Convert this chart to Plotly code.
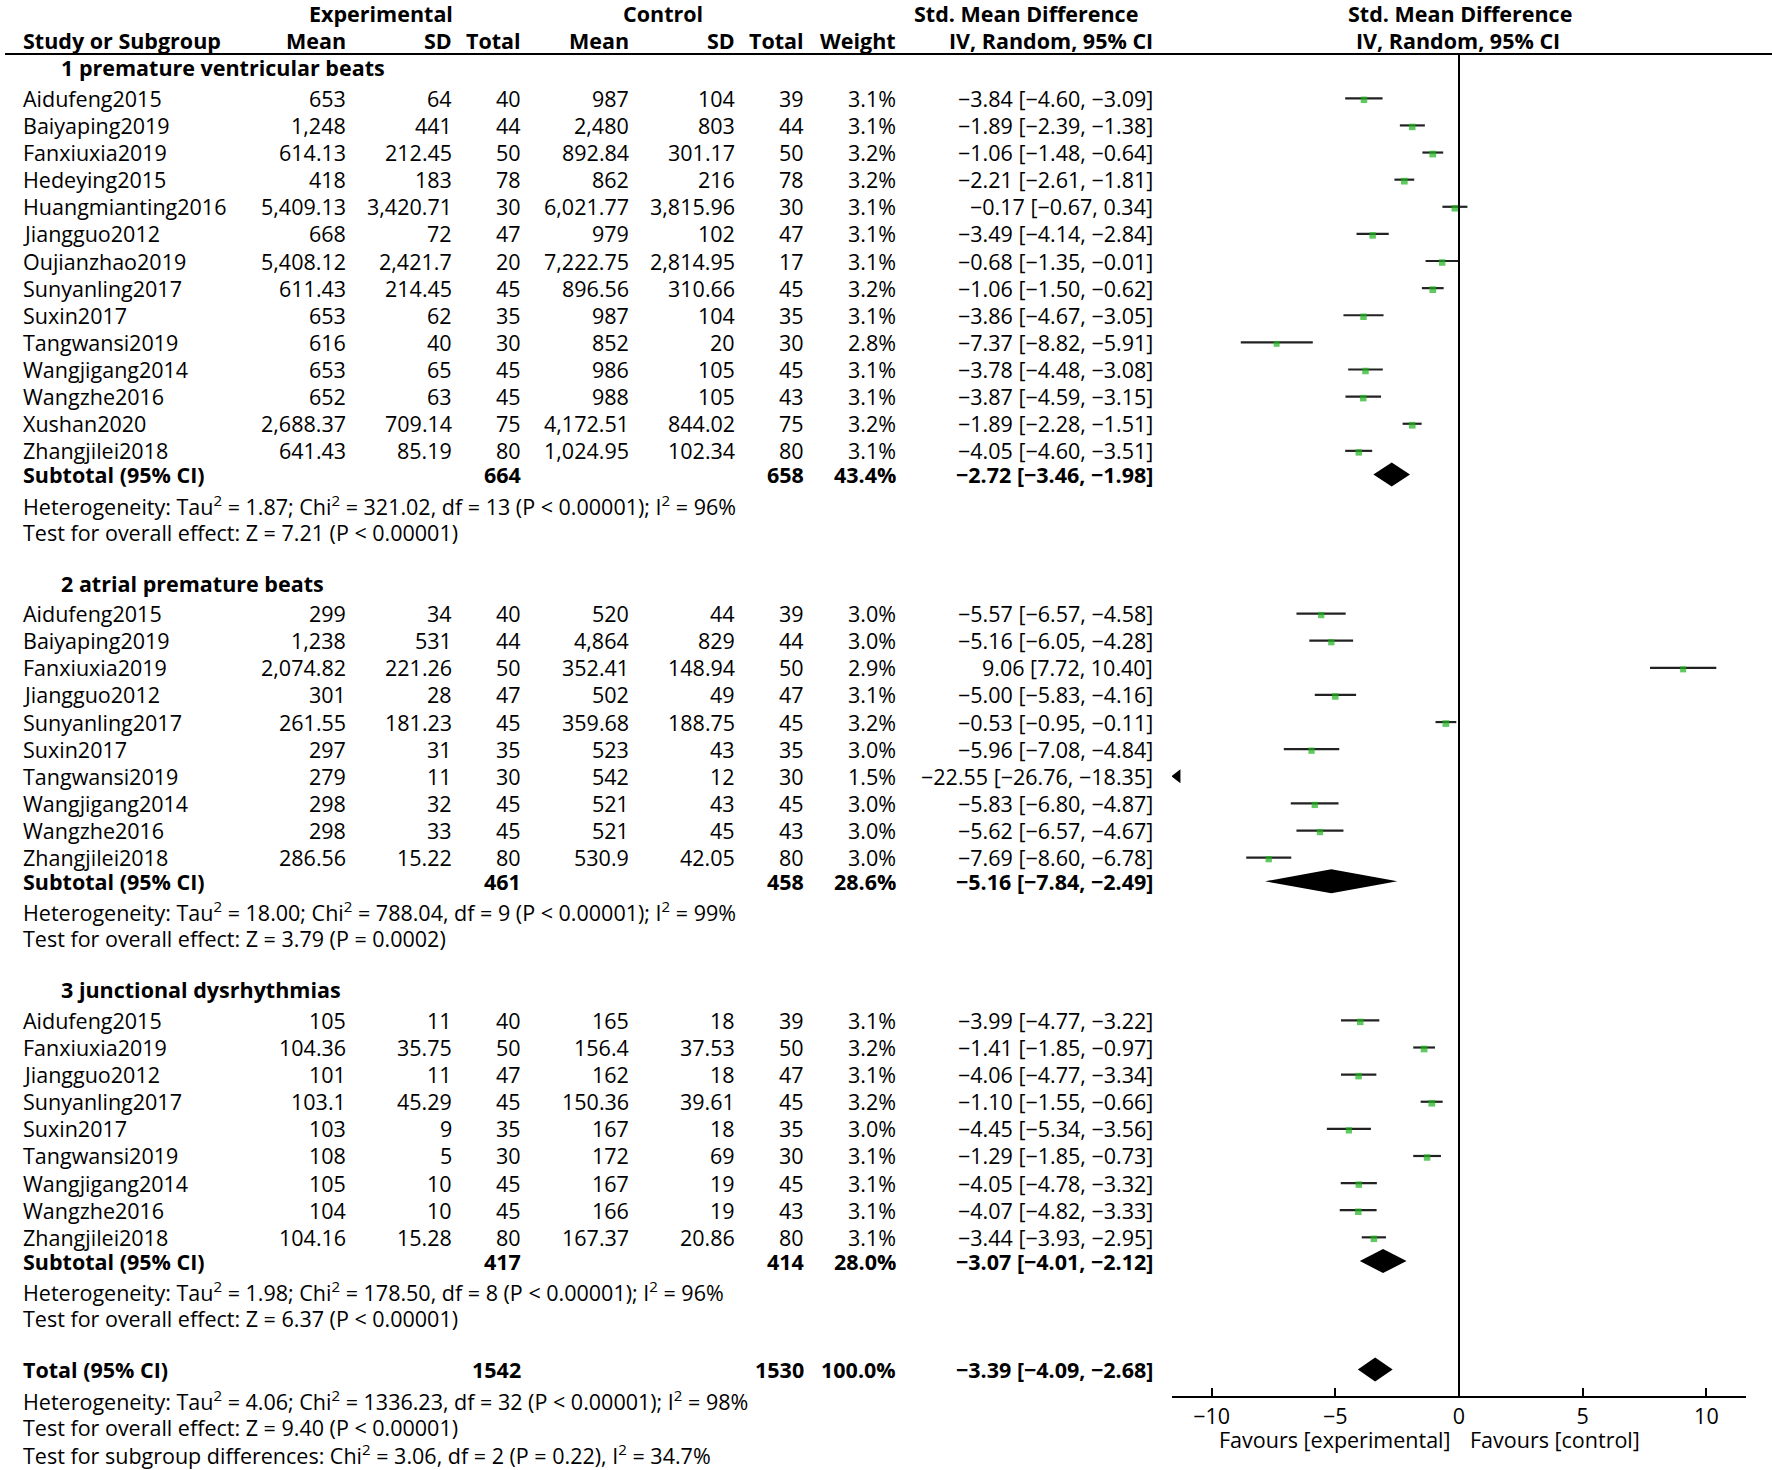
import plotly.graph_objects as go

W, H = 1772, 1470

# ------------------------------------------------------------------ data
study = ["Aidufeng2015", "Baiyaping2019", "Fanxiuxia2019", "Hedeying2015", "Huangmianting2016",
         "Jiangguo2012", "Oujianzhao2019", "Sunyanling2017", "Suxin2017", "Tangwansi2019",
         "Wangjigang2014", "Wangzhe2016", "Xushan2020", "Zhangjilei2018",
         "Aidufeng2015", "Baiyaping2019", "Fanxiuxia2019", "Jiangguo2012", "Sunyanling2017",
         "Suxin2017", "Tangwansi2019", "Wangjigang2014", "Wangzhe2016", "Zhangjilei2018",
         "Aidufeng2015", "Fanxiuxia2019", "Jiangguo2012", "Sunyanling2017", "Suxin2017",
         "Tangwansi2019", "Wangjigang2014", "Wangzhe2016", "Zhangjilei2018"]
group = [0] * 14 + [1] * 10 + [2] * 9
exp_mean = ["653", "1,248", "614.13", "418", "5,409.13", "668", "5,408.12", "611.43", "653", "616",
            "653", "652", "2,688.37", "641.43",
            "299", "1,238", "2,074.82", "301", "261.55", "297", "279", "298", "298", "286.56",
            "105", "104.36", "101", "103.1", "103", "108", "105", "104", "104.16"]
exp_sd = ["64", "441", "212.45", "183", "3,420.71", "72", "2,421.7", "214.45", "62", "40",
          "65", "63", "709.14", "85.19",
          "34", "531", "221.26", "28", "181.23", "31", "11", "32", "33", "15.22",
          "11", "35.75", "11", "45.29", "9", "5", "10", "10", "15.28"]
exp_n = [40, 44, 50, 78, 30, 47, 20, 45, 35, 30, 45, 45, 75, 80,
         40, 44, 50, 47, 45, 35, 30, 45, 45, 80,
         40, 50, 47, 45, 35, 30, 45, 45, 80]
ctl_mean = ["987", "2,480", "892.84", "862", "6,021.77", "979", "7,222.75", "896.56", "987", "852",
            "986", "988", "4,172.51", "1,024.95",
            "520", "4,864", "352.41", "502", "359.68", "523", "542", "521", "521", "530.9",
            "165", "156.4", "162", "150.36", "167", "172", "167", "166", "167.37"]
ctl_sd = ["104", "803", "301.17", "216", "3,815.96", "102", "2,814.95", "310.66", "104", "20",
          "105", "105", "844.02", "102.34",
          "44", "829", "148.94", "49", "188.75", "43", "12", "43", "45", "42.05",
          "18", "37.53", "18", "39.61", "18", "69", "19", "19", "20.86"]
ctl_n = [39, 44, 50, 78, 30, 47, 17, 45, 35, 30, 45, 43, 75, 80,
         39, 44, 50, 47, 45, 35, 30, 45, 43, 80,
         39, 50, 47, 45, 35, 30, 45, 43, 80]
weight = [3.1, 3.1, 3.2, 3.2, 3.1, 3.1, 3.1, 3.2, 3.1, 2.8, 3.1, 3.1, 3.2, 3.1,
          3.0, 3.0, 2.9, 3.1, 3.2, 3.0, 1.5, 3.0, 3.0, 3.0,
          3.1, 3.2, 3.1, 3.2, 3.0, 3.1, 3.1, 3.1, 3.1]
smd = [-3.84, -1.89, -1.06, -2.21, -0.17, -3.49, -0.68, -1.06, -3.86, -7.37, -3.78, -3.87, -1.89, -4.05,
       -5.57, -5.16, 9.06, -5.00, -0.53, -5.96, -22.55, -5.83, -5.62, -7.69,
       -3.99, -1.41, -4.06, -1.10, -4.45, -1.29, -4.05, -4.07, -3.44]
ci_lo = [-4.60, -2.39, -1.48, -2.61, -0.67, -4.14, -1.35, -1.50, -4.67, -8.82, -4.48, -4.59, -2.28, -4.60,
         -6.57, -6.05, 7.72, -5.83, -0.95, -7.08, -26.76, -6.80, -6.57, -8.60,
         -4.77, -1.85, -4.77, -1.55, -5.34, -1.85, -4.78, -4.82, -3.93]
ci_hi = [-3.09, -1.38, -0.64, -1.81, 0.34, -2.84, -0.01, -0.62, -3.05, -5.91, -3.08, -3.15, -1.51, -3.51,
         -4.58, -4.28, 10.40, -4.16, -0.11, -4.84, -18.35, -4.87, -4.67, -6.78,
         -3.22, -0.97, -3.34, -0.66, -3.56, -0.73, -3.32, -3.33, -2.95]

sub_title = ["1 premature ventricular beats", "2 atrial premature beats", "3 junctional dysrhythmias"]
sub_exp_n = [664, 461, 417]
sub_ctl_n = [658, 458, 414]
sub_weight = [43.4, 28.6, 28.0]
sub_smd = [-2.72, -5.16, -3.07]
sub_lo = [-3.46, -7.84, -4.01]
sub_hi = [-1.98, -2.49, -2.12]
sub_tau2 = ["1.87", "18.00", "1.98"]
sub_chi2 = ["321.02", "788.04", "178.50"]
sub_df = [13, 9, 8]
sub_i2 = ["96%", "99%", "96%"]
sub_z = ["Z = 7.21 (P &lt; 0.00001)", "Z = 3.79 (P = 0.0002)", "Z = 6.37 (P &lt; 0.00001)"]

tot_exp_n, tot_ctl_n, tot_weight = 1542, 1530, 100.0
tot_smd, tot_lo, tot_hi = -3.39, -4.09, -2.68
tot_het = "Heterogeneity: Tau<sup>2</sup> = 4.06; Chi<sup>2</sup> = 1336.23, df = 32 (P &lt; 0.00001); I<sup>2</sup> = 98%"
tot_z = "Test for overall effect: Z = 9.40 (P &lt; 0.00001)"
tot_sg = "Test for subgroup differences: Chi<sup>2</sup> = 3.06, df = 2 (P = 0.22), I<sup>2</sup> = 34.7%"

x_ticks = [-10, -5, 0, 5, 10]
x_range = [-11.6, 11.6]
favours = ["Favours [experimental]", "Favours [control]"]

# ------------------------------------------------------------------ layout constants (px)
FONT = "Open Sans"
FS = 21.5
Y_H1, Y_H2, Y_RULE = 13.6, 40.7, 54.0
AXIS_Y = 1397.0
ROW = 27.12
X_NAME, X_TITLE = 22, 60
COLS = dict(em=347, esd=453, en=522, cm=629.5, csd=735.7, cn=804.6, w=897.3, ci=1153.8)
PLOT_L, PLOT_R = 1172, 1746
GREEN = "#1db31d"


def fmt(v):
    return f"{v:.2f}".replace("-", "\u2212")


def ci_text(e, lo, hi):
    return f"{fmt(e)} [{fmt(lo)}, {fmt(hi)}]"


annotations = []


def txt(x_px, y_px, text, anchor="right", bold=False, size=FS):
    if bold:
        text = f"<b>{text}</b>"
    annotations.append(dict(x=x_px / W, xref="paper", y=y_px, yref="y", text=text,
                            xanchor=anchor, yanchor="middle", showarrow=False, borderpad=0,
                            font=dict(family=FONT, size=size, color="#000")))


# header
txt(381, Y_H1, "Experimental", "center", True)
txt(663, Y_H1, "Control", "center", True)
txt(1026, Y_H1, "Std. Mean Difference", "center", True)
txt(1460, Y_H1, "Std. Mean Difference", "center", True)
txt(X_NAME, Y_H2, "Study or Subgroup", "left", True)
for key, lab in [("em", "Mean"), ("esd", "SD"), ("en", "Total"), ("cm", "Mean"),
                 ("csd", "SD"), ("cn", "Total"), ("w", "Weight"), ("ci", "IV, Random, 95% CI")]:
    txt(COLS[key], Y_H2, lab, "right", True)
txt(1458, Y_H2, "IV, Random, 95% CI", "center", True)

# rows
y = 67.8
row_y = [None] * len(study)
sub_y = []
for g in range(3):
    txt(X_TITLE, y, sub_title[g], "left", True)
    y += 30.5
    idx = [i for i in range(len(study)) if group[i] == g]
    for k, i in enumerate(idx):
        if k > 0:
            y += ROW
        row_y[i] = y
        txt(X_NAME, y, study[i], "left")
        txt(COLS["em"], y, exp_mean[i])
        txt(COLS["esd"], y, exp_sd[i])
        txt(COLS["en"], y, str(exp_n[i]))
        txt(COLS["cm"], y, ctl_mean[i])
        txt(COLS["csd"], y, ctl_sd[i])
        txt(COLS["cn"], y, str(ctl_n[i]))
        txt(COLS["w"], y, f"{weight[i]:.1f}%")
        txt(COLS["ci"], y, ci_text(smd[i], ci_lo[i], ci_hi[i]))
    y += 23.7
    sub_y.append(y)
    txt(X_NAME, y, "Subtotal (95% CI)", "left", True)
    txt(COLS["en"], y, str(sub_exp_n[g]), "right", True)
    txt(COLS["cn"], y, str(sub_ctl_n[g]), "right", True)
    txt(COLS["w"], y, f"{sub_weight[g]:.1f}%", "right", True)
    txt(COLS["ci"], y, ci_text(sub_smd[g], sub_lo[g], sub_hi[g]), "right", True)
    y += 30.5
    txt(X_NAME, y, f"Heterogeneity: Tau<sup>2</sup> = {sub_tau2[g]}; Chi<sup>2</sup> = {sub_chi2[g]}, "
                   f"df = {sub_df[g]} (P &lt; 0.00001); I<sup>2</sup> = {sub_i2[g]}", "left")
    y += ROW
    txt(X_NAME, y, "Test for overall effect: " + sub_z[g], "left")
    y += 50.9

y_total = y
txt(X_NAME, y_total, "Total (95% CI)", "left", True)
txt(COLS["en"], y_total, str(tot_exp_n), "right", True)
txt(COLS["cn"], y_total, str(tot_ctl_n), "right", True)
txt(COLS["w"], y_total, f"{tot_weight:.1f}%", "right", True)
txt(COLS["ci"], y_total, ci_text(tot_smd, tot_lo, tot_hi), "right", True)
txt(X_NAME, y_total + 30.5, tot_het, "left")
txt(X_NAME, y_total + 30.5 + ROW, tot_z, "left")
txt(X_NAME, y_total + 30.5 + 2 * ROW, tot_sg, "left")

# favours labels
txt(1452, 1439.5, favours[0], "right")
txt(1469, 1439.5, favours[1], "left")

# ------------------------------------------------------------------ forest marks
fig = go.Figure()

xmin, xmax = x_range
lx, ly = [], []
sqx, sqy, sqs = [], [], []
arl_x, arl_y, arr_x, arr_y = [], [], [], []
for i in range(len(study)):
    lo, hi = max(ci_lo[i], xmin), min(ci_hi[i], xmax)
    if lo < hi:
        lx += [lo, hi, None]
        ly += [row_y[i], row_y[i], None]
    if xmin <= smd[i] <= xmax:
        sqx.append(smd[i])
        sqy.append(row_y[i] + 1.5)
        sqs.append(2.1 * weight[i])
    if ci_lo[i] < xmin:
        arl_x.append(xmin + 0.22)
        arl_y.append(row_y[i])
    if ci_hi[i] > xmax:
        arr_x.append(xmax - 0.22)
        arr_y.append(row_y[i])

fig.add_trace(go.Scatter(x=lx, y=ly, mode="lines", line=dict(color="#222", width=2.2),
                         hoverinfo="skip", showlegend=False))
fig.add_trace(go.Scatter(x=sqx, y=sqy, mode="markers",
                         marker=dict(symbol="square", size=sqs, color=GREEN, line=dict(width=0)),
                         showlegend=False))
fig.add_trace(go.Scatter(x=arl_x, y=arl_y, mode="markers",
                         marker=dict(symbol="triangle-left", size=12, color="#000"), showlegend=False))
if arr_x:
    fig.add_trace(go.Scatter(x=arr_x, y=arr_y, mode="markers",
                             marker=dict(symbol="triangle-right", size=12, color="#000"), showlegend=False))

# diamonds
DH = 12
for est, lo, hi, yy in list(zip(sub_smd, sub_lo, sub_hi, sub_y)) + [(tot_smd, tot_lo, tot_hi, y_total)]:
    fig.add_trace(go.Scatter(x=[lo, est, hi, est, lo], y=[yy, yy - DH, yy, yy + DH, yy],
                             mode="lines", fill="toself", fillcolor="#000",
                             line=dict(width=0, color="#000"), hoverinfo="skip", showlegend=False))

shapes = [
    dict(type="line", xref="paper", yref="y", x0=5 / W, x1=1, y0=Y_RULE, y1=Y_RULE,
         line=dict(color="#000", width=2)),
    dict(type="line", xref="x", yref="y", x0=0, x1=0, y0=Y_RULE, y1=AXIS_Y,
         line=dict(color="#000", width=2)),
]

fig.update_layout(
    width=W, height=H, margin=dict(l=0, r=0, t=0, b=0),
    paper_bgcolor="white", plot_bgcolor="white",
    showlegend=False, annotations=annotations, shapes=shapes,
    font=dict(family=FONT, size=FS, color="#000"),
    xaxis=dict(domain=[PLOT_L / W, PLOT_R / W], range=x_range, anchor="free",
               position=1 - AXIS_Y / H, showline=True, linecolor="#000", linewidth=2,
               ticks="inside", ticklen=8, tickwidth=2, tickcolor="#000",
               tickvals=x_ticks, showgrid=False, zeroline=False,
               tickfont=dict(family=FONT, size=FS, color="#000")),
    yaxis=dict(domain=[0, 1], range=[H, 0], visible=False, showgrid=False, zeroline=False),
)

fig.write_html("out.html", config={"displayModeBar": False},
               post_script="document.body.style.margin='0';document.body.style.overflow='hidden';")
